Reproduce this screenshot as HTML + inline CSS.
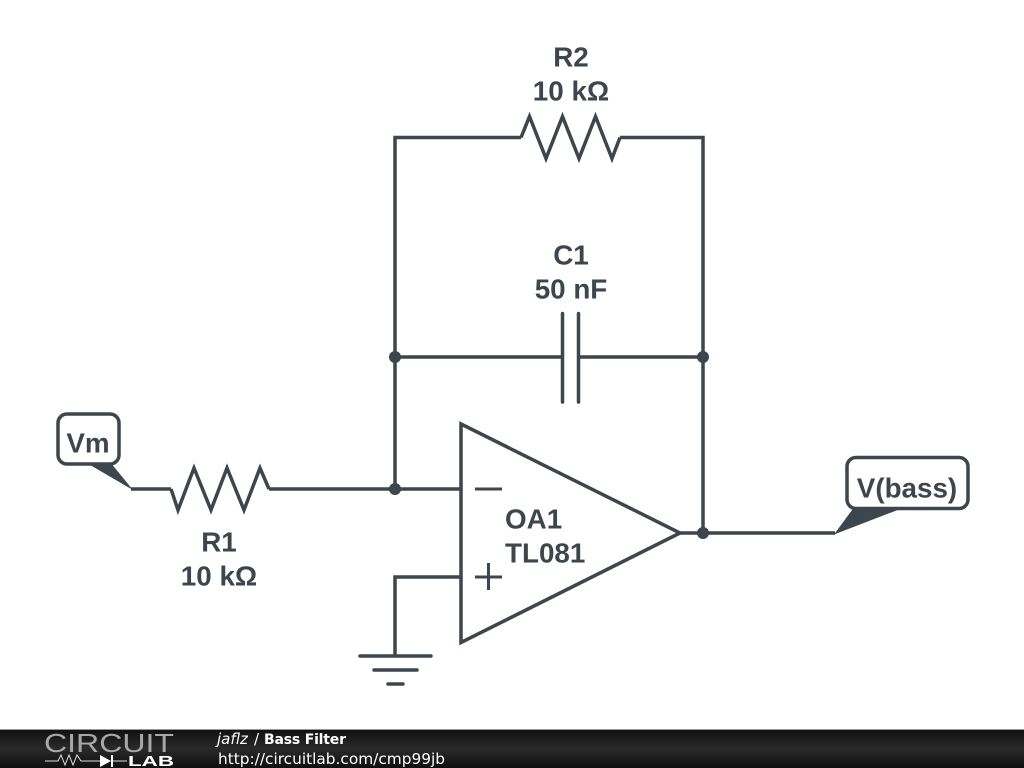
<!DOCTYPE html>
<html>
<head>
<meta charset="utf-8">
<style>
html,body{margin:0;padding:0;background:#fff;width:1024px;height:768px;overflow:hidden}
svg{display:block}
.l{font-family:"Liberation Sans",sans-serif;font-weight:bold;font-size:27.8px;fill:#3d464c;text-anchor:middle}
.w{fill:none;stroke:#3d464c;stroke-width:3.500;stroke-linejoin:miter}
</style>
</head>
<body>
<svg width="1024" height="768" viewBox="0 0 1024 768" xmlns="http://www.w3.org/2000/svg">
<defs>
<linearGradient id="g" x1="0" y1="0" x2="0" y2="1">
<stop offset="0" stop-color="#0f0f0f"/><stop offset="0.5" stop-color="#2a2a2a"/><stop offset="1" stop-color="#0f0f0f"/>
</linearGradient>
</defs>
<rect width="1024" height="768" fill="#fff"/>

<!-- wires -->
<path class="w" d="M521 137.500H395V489M620 137.500H703V533"/>
<path class="w" d="M395 357H562M580 357H703"/>
<path class="w" d="M131 489H171M269 489H461"/>
<path class="w" d="M395 656V577H461"/>
<path class="w" d="M680 533H835"/>

<!-- R2 -->
<path class="w" d="M521 137.500L529.500 116.500L546 158.500L562.500 116.500L579 158.500L595.500 116.500L612 158.500L620 137.500"/>
<!-- R1 -->
<path class="w" d="M171 489L178 510L194 468L211 510L227 468L244 510L260 468L269 489"/>

<!-- C1 -->
<path d="M562.500 313.500V402M578.500 313.500V402" fill="none" stroke="#3d464c" stroke-width="3.500" stroke-linecap="round"/>

<!-- op amp -->
<path class="w" d="M461 424L680 533L461 642.500Z"/>
<path d="M475 489H502M475 577H502M488.500 563V590" fill="none" stroke="#3d464c" stroke-width="3"/>

<!-- ground -->
<path d="M360 656H431M374 670H417M388 684H403" fill="none" stroke="#3d464c" stroke-width="3.500" stroke-linecap="round"/>

<!-- junctions -->
<circle cx="395" cy="357" r="6" fill="#3d464c"/>
<circle cx="703" cy="357" r="6" fill="#3d464c"/>
<circle cx="395" cy="489" r="6" fill="#3d464c"/>
<circle cx="703" cy="533" r="6" fill="#3d464c"/>

<!-- Vm label -->
<path d="M85 462L133 490L110 462Z" fill="#3d464c"/>
<rect x="58" y="414" width="61" height="50" rx="9" ry="9" fill="#fff" stroke="#3d464c" stroke-width="3.500"/>
<text class="l" x="88" y="452.500">Vm</text>

<!-- V(bass) label -->
<path d="M855 506L834 534.500L908 506Z" fill="#3d464c"/>
<rect x="847" y="457.500" width="121" height="51" rx="9" ry="9" fill="#fff" stroke="#3d464c" stroke-width="3.500"/>
<text class="l" x="907" y="497.500">V(bass)</text>

<!-- labels -->
<text class="l" x="571" y="66.500">R2</text>
<text class="l" x="571" y="100.500">10 kΩ</text>
<text class="l" x="571" y="264.500">C1</text>
<text class="l" x="571" y="298.500">50 nF</text>
<text class="l" x="219" y="551.500">R1</text>
<text class="l" x="219" y="585.500">10 kΩ</text>
<text class="l" x="505" y="528.500" style="text-anchor:start">OA1</text>
<text class="l" x="505" y="562.500" style="text-anchor:start">TL081</text>

<!-- footer -->
<rect x="0" y="729" width="1024" height="39" fill="url(#g)"/>
<rect x="0" y="729" width="1024" height="1" fill="#999"/>
<text x="44" y="752" font-family="'Liberation Sans',sans-serif" font-size="26" fill="#a8a8a8" textLength="130" lengthAdjust="spacingAndGlyphs">CIRCUIT</text>
<path d="M45 761H58L61 755L65 765L69 755L73 765L77 755L81 761H100M113 761H127" fill="none" stroke="#ddd" stroke-width="1"/>
<path d="M100 755L111 761L100 767Z" fill="#fff"/>
<path d="M112 755V767" stroke="#fff" stroke-width="2"/>
<text x="128" y="766" font-family="'Liberation Sans',sans-serif" font-weight="bold" font-size="15" fill="#fff" textLength="46" lengthAdjust="spacingAndGlyphs">LAB</text>
<text x="217" y="744" font-family="'DejaVu Sans',sans-serif" font-size="15" fill="#fff" font-style="italic">jaflz</text>
<text x="254" y="744" font-family="'DejaVu Sans',sans-serif" font-size="15" fill="#fff">/</text>
<text x="264" y="744" font-family="'DejaVu Sans',sans-serif" font-size="14" font-weight="bold" fill="#fff" textLength="82">Bass Filter</text>
<text x="218" y="764" font-family="'DejaVu Sans',sans-serif" font-size="15.350" fill="#fff">http://circuitlab.com/cmp99jb</text>
</svg>
</body>
</html>
